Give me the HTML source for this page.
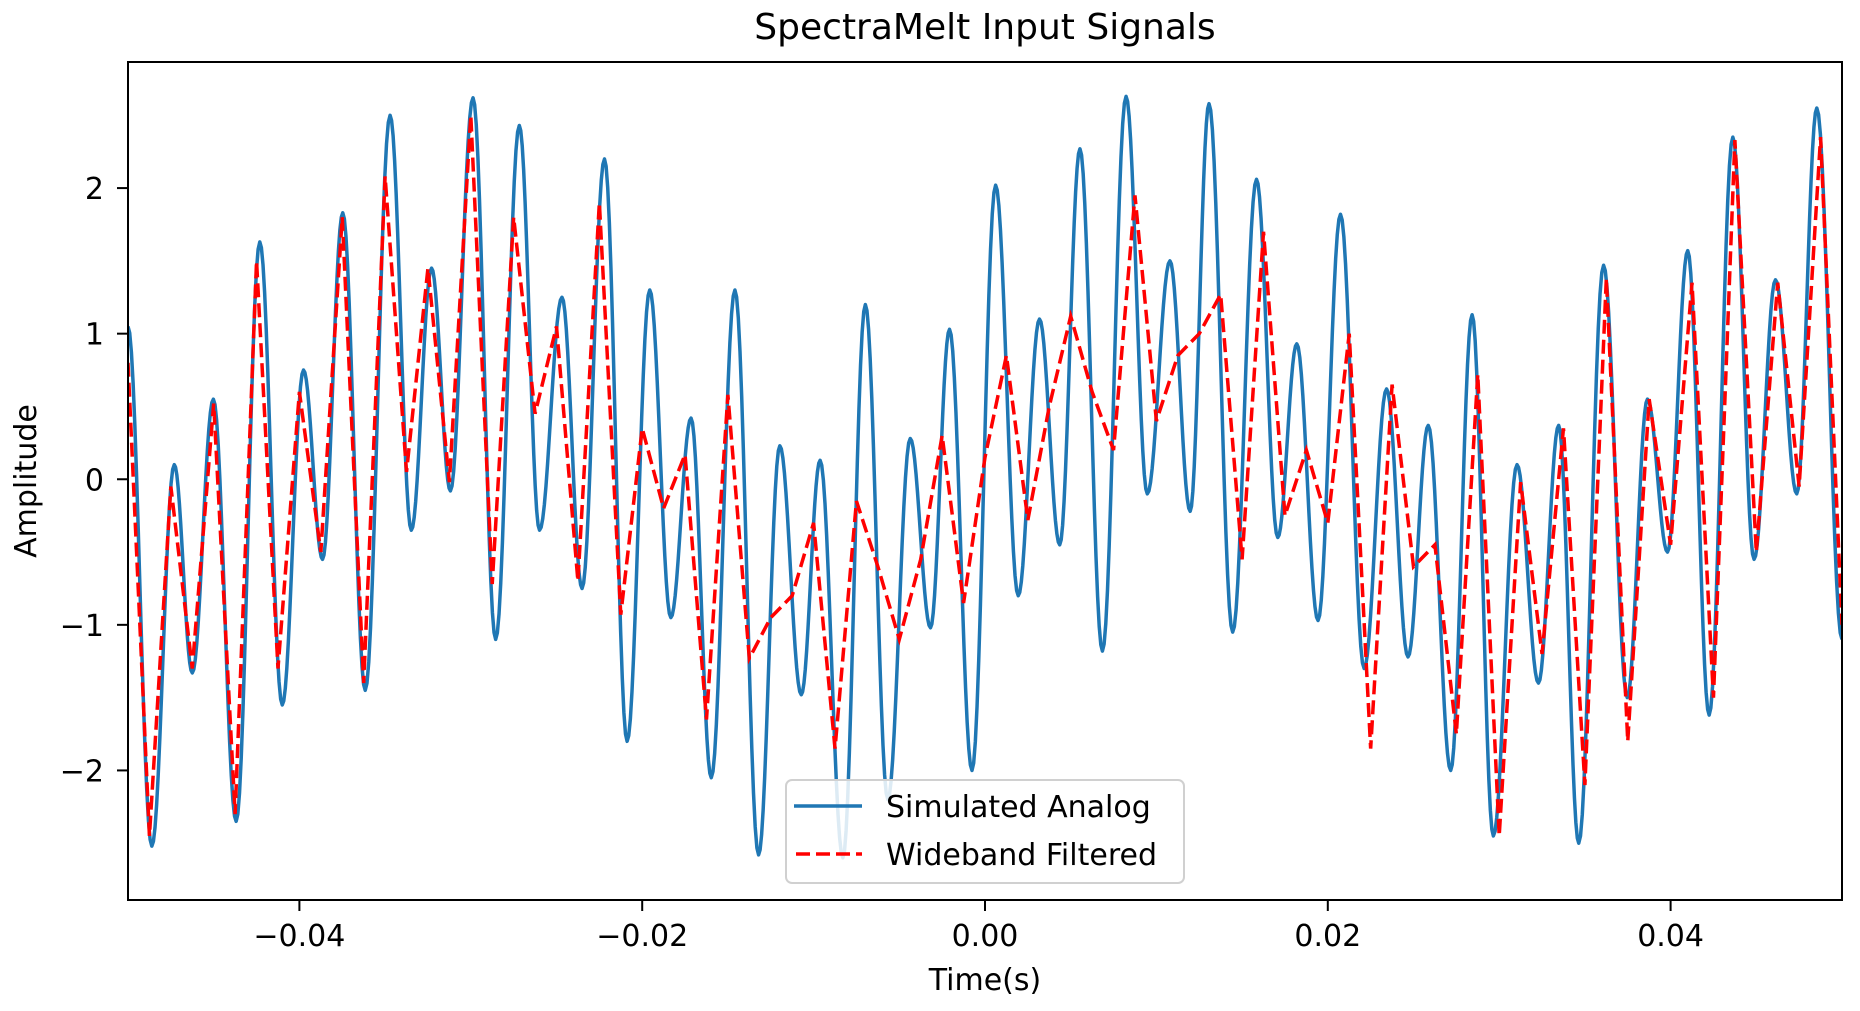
<!DOCTYPE html>
<html><head><meta charset="utf-8">
<style>
html,body{margin:0;padding:0;background:#fff;}
svg{display:block;font-family:"DejaVu Sans","Liberation Sans",sans-serif;}
</style></head>
<body>
<svg id="chart" width="1860" height="1011" viewBox="0 0 1860 1011" xmlns="http://www.w3.org/2000/svg">
<text x="985" y="39" font-size="36" text-anchor="middle" fill="#000">SpectraMelt Input Signals</text>
<g id="marks"></g>
<rect x="128" y="62" width="1714" height="838" fill="none" stroke="#000" stroke-width="2"/>
<g id="axes"></g>
<text x="985" y="990" font-size="30" text-anchor="middle" fill="#000">Time(s)</text>
<text transform="translate(36,481) rotate(-90)" font-size="30" text-anchor="middle" fill="#000">Amplitude</text>
<g>
<rect x="786" y="780" width="398" height="103" rx="6" fill="#fff" fill-opacity="0.85" stroke="#d0d0d0" stroke-width="2"/>
<line x1="794" y1="806" x2="862" y2="806" stroke="#1f77b4" stroke-width="3.5"/>
<text x="886" y="817" font-size="30" fill="#000">Simulated Analog</text>
<line x1="796" y1="854" x2="862" y2="854" stroke="#ff0000" stroke-width="3.5" stroke-dasharray="14,6"/>
<text x="886" y="865" font-size="30" fill="#000">Wideband Filtered</text>
</g>
</svg>
<script>
// Blue analog signal extrema (time in ms, amplitude)
const analogTimesMs = [-50.0,-48.61,-47.30,-46.25,-45.02,-43.69,-42.31,-41.00,-39.76,-38.65,-37.47,-36.16,-34.71,-33.47,-32.29,-31.19,-29.87,-28.55,-27.17,-25.99,-24.68,-23.51,-22.20,-20.88,-19.56,-18.33,-17.15,-15.97,-14.59,-13.21,-11.97,-10.72,-9.62,-8.29,-6.98,-5.67,-4.36,-3.18,-2.07,-0.76,0.62,1.94,3.18,4.36,5.54,6.85,8.23,9.47,10.79,11.97,13.07,14.45,15.84,17.08,18.19,19.43,20.74,22.12,23.43,24.68,25.86,27.17,28.42,29.66,31.04,32.29,33.47,34.64,36.09,37.47,38.65,39.82,41.00,42.25,43.63,44.87,46.12,47.36,48.53,50.0];
const analogValues = [1.05,-2.52,0.1,-1.33,0.55,-2.35,1.63,-1.55,0.75,-0.55,1.83,-1.45,2.5,-0.35,1.45,-0.08,2.62,-1.1,2.43,-0.35,1.25,-0.75,2.2,-1.8,1.3,-0.95,0.42,-2.05,1.3,-2.58,0.23,-1.48,0.13,-2.6,1.2,-2.2,0.28,-1.02,1.03,-2.0,2.02,-0.8,1.1,-0.45,2.27,-1.18,2.63,-0.1,1.5,-0.22,2.58,-1.05,2.06,-0.4,0.93,-0.97,1.82,-1.3,0.62,-1.22,0.37,-2.0,1.13,-2.45,0.1,-1.4,0.37,-2.5,1.47,-1.5,0.55,-0.5,1.57,-1.62,2.35,-0.55,1.37,-0.1,2.55,-1.1];
// Red filtered samples (uniformly sampled)
const filteredStartMs = -50;
const filteredStepMs = 1.25;
const filteredValues = [0.8,-2.45,-0.05,-1.3,0.52,-2.3,1.5,-1.3,0.6,-0.5,1.8,-1.4,2.08,0.05,1.45,-0.02,2.5,-0.72,1.8,0.45,1.05,-0.7,1.9,-0.93,0.35,-0.2,0.17,-1.65,0.58,-1.23,-0.95,-0.8,-0.3,-1.85,-0.15,-0.6,-1.1,-0.55,0.3,-0.85,0.15,0.85,-0.28,0.5,1.12,0.6,0.2,1.95,0.4,0.85,1.0,1.27,-0.55,1.7,-0.25,0.2,-0.3,1.0,-1.85,0.65,-0.6,-0.45,-1.75,0.72,-2.45,-0.02,-1.2,0.35,-2.1,1.38,-1.8,0.55,-0.45,1.35,-1.5,2.33,-0.5,1.35,-0.05,2.35,-1.0];
const xTickValues = [-0.04,-0.02,0,0.02,0.04];
const xTickLabels = ["\u22120.04","\u22120.02","0.00","0.02","0.04"];
const yTickValues = [-2,-1,0,1,2];
const yTickLabels = ["\u22122","\u22121","0","1","2"];

const NS = "http://www.w3.org/2000/svg";
const L = 128, R = 1842, T = 62, B = 900;
const X0 = -0.05, X1 = 0.05, Y0 = -2.89, Y1 = 2.866;
function xs(t){ return L + (t - X0) / (X1 - X0) * (R - L); }
function ys(v){ return B - (v - Y0) / (Y1 - Y0) * (B - T); }

const marks = document.getElementById('marks');
const axes = document.getElementById('axes');

const defs = document.createElementNS(NS,'defs');
defs.innerHTML = '<clipPath id="pc"><rect x="128" y="62" width="1714" height="838"/></clipPath>';
document.getElementById('chart').insertBefore(defs, marks);
marks.setAttribute('clip-path','url(#pc)');

let d = '';
for (let i = 0; i < analogTimesMs.length - 1; i++) {
  const ta = analogTimesMs[i]/1000, tb = analogTimesMs[i+1]/1000;
  const a = analogValues[i], b = analogValues[i+1];
  const n = 14;
  for (let k = (i === 0 ? 0 : 1); k <= n; k++) {
    const f = k / n;
    const t = ta + (tb - ta) * f;
    const v = a + (b - a) * (1 - Math.cos(Math.PI * f)) / 2;
    d += (d ? 'L' : 'M') + xs(t).toFixed(2) + ',' + ys(v).toFixed(2);
  }
}
const blue = document.createElementNS(NS,'path');
blue.setAttribute('d', d);
blue.setAttribute('fill','none');
blue.setAttribute('stroke','#1f77b4');
blue.setAttribute('stroke-width','3.5');
blue.setAttribute('stroke-linejoin','round');


marks.appendChild(blue);

let d2 = '';
filteredValues.forEach((v, i) => {
  const t = (filteredStartMs + i * filteredStepMs) / 1000;
  d2 += (i ? 'L' : 'M') + xs(t).toFixed(2) + ',' + ys(v).toFixed(2);
});
const red = document.createElementNS(NS,'path');
red.setAttribute('d', d2);
red.setAttribute('fill','none');
red.setAttribute('stroke','#ff0000');
red.setAttribute('stroke-width','3.5');
red.setAttribute('stroke-dasharray','14,6');


marks.appendChild(red);

xTickValues.forEach((v, i) => {
  const x = xs(v);
  const tk = document.createElementNS(NS,'line');
  tk.setAttribute('x1', x); tk.setAttribute('x2', x);
  tk.setAttribute('y1', B); tk.setAttribute('y2', B + 11);
  tk.setAttribute('stroke','#000'); tk.setAttribute('stroke-width','2');
  
  
  axes.appendChild(tk);
  const tx = document.createElementNS(NS,'text');
  tx.setAttribute('x', x); tx.setAttribute('y', B + 46);
  tx.setAttribute('font-size','30'); tx.setAttribute('text-anchor','middle');
  tx.textContent = xTickLabels[i];
  
  
  axes.appendChild(tx);
});
yTickValues.forEach((v, i) => {
  const y = ys(v);
  const tk = document.createElementNS(NS,'line');
  tk.setAttribute('x1', L - 11); tk.setAttribute('x2', L);
  tk.setAttribute('y1', y); tk.setAttribute('y2', y);
  tk.setAttribute('stroke','#000'); tk.setAttribute('stroke-width','2');
  
  
  axes.appendChild(tk);
  const tx = document.createElementNS(NS,'text');
  tx.setAttribute('x', L - 24); tx.setAttribute('y', y + 11);
  tx.setAttribute('font-size','30'); tx.setAttribute('text-anchor','end');
  tx.textContent = yTickLabels[i];
  
  
  axes.appendChild(tx);
});
</script>
</body></html>
